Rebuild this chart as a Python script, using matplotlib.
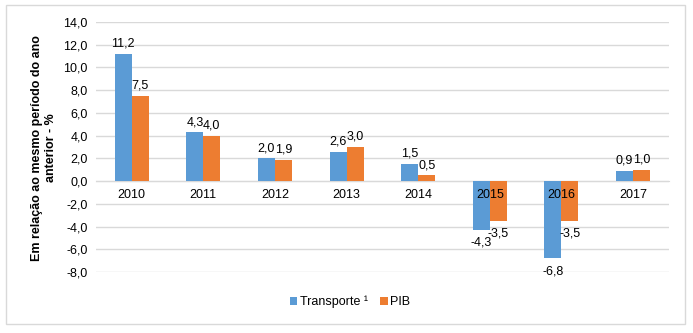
import numpy as np
import matplotlib.pyplot as plt
from matplotlib.patches import Rectangle
from matplotlib.ticker import FuncFormatter

plt.rcParams['font.family'] = ['Liberation Sans', 'DejaVu Sans']

anos = ['2010', '2011', '2012', '2013', '2014', '2015', '2016', '2017']
transporte = [11.2, 4.3, 2.0, 2.6, 1.5, -4.3, -6.8, 0.9]
pib = [7.5, 4.0, 1.9, 3.0, 0.5, -3.5, -3.5, 1.0]

azul = '#5B9BD5'
laranja = '#ED7D31'
grade = '#D9D9D9'


def virgula(val, pos=None):
    return f"{val:.1f}".replace('.', ',')


fig = plt.figure(figsize=(6.93, 3.33), dpi=100)
ax = fig.add_axes([0.1385, 0.183, 0.8265, 0.751])

# moldura cinza clara em volta do grafico
fig.patches.append(Rectangle((6 / 693, 1 - 324 / 333), 679 / 693, 319 / 333,
                             transform=fig.transFigure, fill=False,
                             edgecolor='#D9D9D9', linewidth=1))

x = np.arange(len(anos))
w = 0.237

# linhas de grade por baixo das barras, rotulos do eixo por cima
for yv in np.arange(-8, 15, 2):
    ax.axhline(yv, color=grade, linewidth=1, zorder=0)

b1 = ax.bar(x - w / 2, transporte, w, color=azul, label='Transporte ¹', zorder=1)
b2 = ax.bar(x + w / 2, pib, w, color=laranja, label='PIB', zorder=1)

for barras, valores in [(b1, transporte), (b2, pib)]:
    for rect, v in zip(barras, valores):
        cx = rect.get_x() + rect.get_width() / 2
        if v >= 0:
            ax.annotate(virgula(v), (cx, v), xytext=(0, 3), textcoords='offset points',
                        ha='center', va='bottom', fontsize=9, color='#000000')
        else:
            ax.annotate(virgula(v), (cx, v), xytext=(0, -5), textcoords='offset points',
                        ha='center', va='top', fontsize=9, color='#000000')

ax.set_xlim(-0.5, len(anos) - 0.5)
ax.set_ylim(-8, 14)
ax.set_yticks(np.arange(-8, 15, 2))
ax.yaxis.set_major_formatter(FuncFormatter(virgula))
ax.set_xticks(x)
ax.set_xticklabels(anos)

for s in ['top', 'right', 'left']:
    ax.spines[s].set_visible(False)
ax.spines['bottom'].set_position(('data', 0))
ax.spines['bottom'].set_color(grade)
ax.spines['bottom'].set_zorder(0.5)
ax.tick_params(axis='both', length=0, labelsize=9, colors='#000000')
ax.tick_params(axis='x', pad=6)
ax.tick_params(axis='y', pad=6)

fig.text(44 / 693, 0.556, 'Em relação ao mesmo período do ano\nanterior - %',
         rotation=90, ha='center', va='center', fontsize=9, fontweight='bold',
         multialignment='center')

fig.legend(handles=[b1, b2], loc='center', bbox_to_anchor=(0.505, 1 - 302 / 333),
           ncol=2, frameon=False, fontsize=9, handlelength=0.6, handleheight=0.6,
           handletextpad=0.2, columnspacing=1.0)

fig.savefig('out.png', dpi=100)
